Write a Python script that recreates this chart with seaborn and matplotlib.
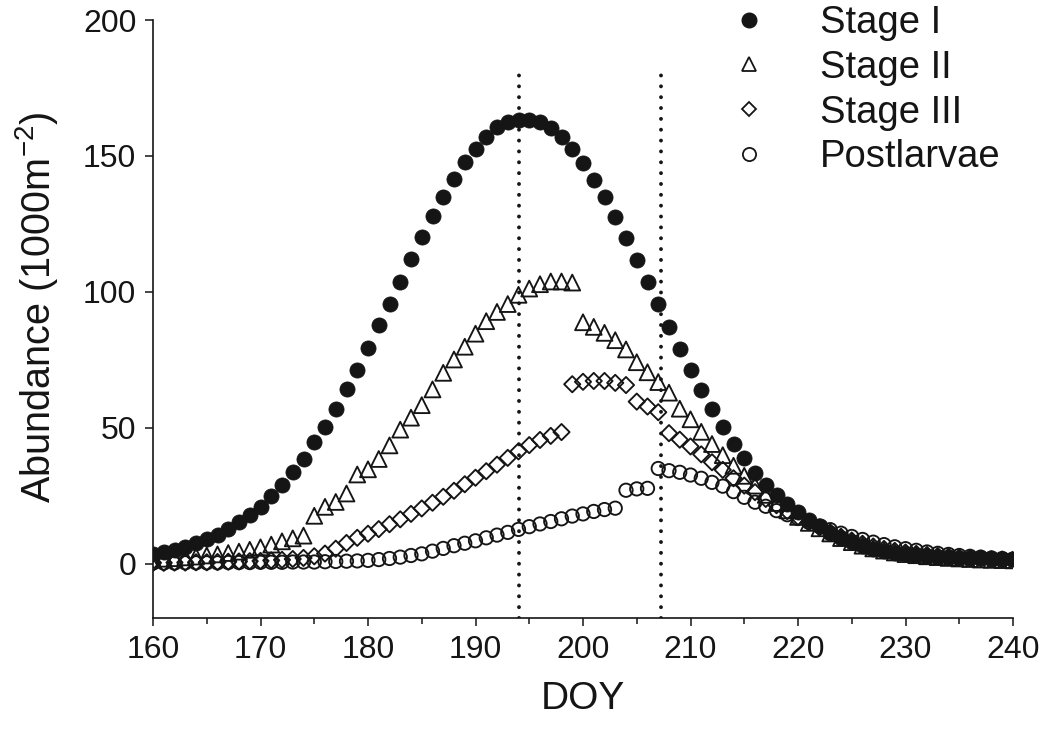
import matplotlib
matplotlib.use("Agg")
import matplotlib.pyplot as plt
from matplotlib.lines import Line2D
from matplotlib.ticker import MultipleLocator
import numpy as np
import pandas as pd
import seaborn as sns

# ---------------- data ----------------
days = list(range(160, 241))

stage1 = [3.7, 4.3, 5.2, 6.3, 7.7, 9.2, 10.6, 12.6, 15.3, 18.0, 21.0, 24.8, 28.9, 33.6,
          38.5, 44.6, 50.3, 57.0, 64.1, 71.4, 79.4, 87.9, 95.6,
          103.6, 112.0, 120.0, 127.8, 134.9, 141.6, 147.7, 152.6, 157.1, 160.5, 162.4,
          163.3, 163.3, 162.4, 160.3, 157.1, 152.6, 147.4, 141.3, 134.7, 127.4, 119.7,
          111.6, 103.6, 95.4,
          87.1, 79.0, 71.2, 63.9, 56.8, 50.1, 44.0, 38.7, 33.3, 28.9, 25.3, 22.0, 18.9,
          16.2, 14.0,
          11.4, 9.4, 7.8, 6.4, 5.4, 4.6, 4.0, 3.5, 3.1, 2.8, 2.5, 2.3, 2.1, 2.0, 1.9,
          1.8, 1.7, 1.6]

stage2 = [1.5, 1.8, 2.0, 2.3, 2.6, 3.0, 3.4, 3.9, 4.4, 5.1, 6.0, 7.0, 8.2, 9.3, 10.3,
          17.6, 20.9, 22.7, 25.8, 32.8, 34.7, 38.5, 43.5, 49.3, 53.7, 58.3, 64.1, 70.2,
          75.1, 79.8, 84.6, 89.2, 92.6, 95.5, 98.9, 101.2, 102.8, 103.8, 103.8, 103.4,
          88.8, 87.1, 84.9, 82.2, 78.8, 74.1, 70.4, 66.8, 62.9, 57.0, 53.1, 48.5, 44.0,
          39.9, 36.0, 32.3, 28.7,
          25.3, 22.3, 19.6, 17.2, 15.0, 13.0, 11.1, 9.4, 7.9, 6.6, 5.6, 4.8, 4.1, 3.5,
          3.1, 2.7, 2.4, 2.1, 1.9, 1.7, 1.5, 1.4, 1.3, 1.2]

stage3 = [0.3, 0.3, 0.4, 0.4, 0.5, 0.5, 0.6, 0.7, 0.8, 0.9, 1.0, 1.2, 1.4, 1.7, 2.1, 2.7,
          3.7,
          5.5, 7.6, 9.5, 11.0, 12.7, 14.5, 16.3, 18.3, 20.3, 22.4, 24.6, 26.8, 29.2, 31.6,
          34.0, 36.4, 38.9, 41.3, 43.6, 45.5, 47.0, 48.4,
          66.0, 66.9, 67.2, 67.2, 66.5, 65.7, 59.6, 57.8, 55.7, 48.0, 45.6, 43.1, 40.2,
          37.3, 34.5, 31.4, 28.7, 26.3,
          23.8, 21.5, 19.3, 17.2, 15.2, 13.3, 11.5, 9.9, 8.5, 7.3, 6.3, 5.4, 4.7, 4.1,
          3.6, 3.2, 2.8, 2.5, 2.2, 2.0, 1.8, 1.6, 1.5, 1.4]

postlarvae = [0.2, 0.2, 0.2, 0.3, 0.3, 0.3, 0.3, 0.4, 0.4, 0.4, 0.5, 0.5, 0.5, 0.6, 0.6,
              0.6, 0.7, 0.8, 0.9, 1.0,
              1.2, 1.5, 1.9, 2.4, 3.0, 3.6, 4.6, 5.6, 6.6, 7.5, 8.4, 9.5, 10.5, 11.5, 12.6,
              13.6, 14.6, 15.5, 16.5, 17.5, 18.3, 19.2, 19.9, 20.4,
              27.0, 27.5, 27.7, 35.0, 34.2, 33.6, 32.6, 31.4, 29.9, 28.5, 26.5, 24.4, 22.6,
              21.1, 19.5,
              18.0, 16.6, 15.2, 13.8, 12.5, 11.2, 10.0, 8.9, 7.9, 7.0, 6.2, 5.5, 4.9, 4.3,
              3.8, 3.4, 3.0, 2.7, 2.4, 2.1, 1.9, 1.7]

labels = ["Stage I", "Stage II", "Stage III", "Postlarvae"]
vline_days = [194, 207.3]
xticks = [160, 170, 180, 190, 200, 210, 220, 230, 240]
yticks = [0, 50, 100, 150, 200]

df = pd.DataFrame({"DOY": days, "Stage I": stage1, "Stage II": stage2,
                   "Stage III": stage3, "Postlarvae": postlarvae})

# ---------------- style ----------------
sns.set_style("ticks")
plt.rcParams["font.family"] = ["Liberation Sans", "DejaVu Sans"]
plt.rcParams["mathtext.fontset"] = "custom"
plt.rcParams["mathtext.rm"] = "Liberation Sans"
plt.rcParams["mathtext.it"] = "Liberation Sans:italic"
plt.rcParams["mathtext.default"] = "regular"

INK = "#151515"

fig = plt.figure(figsize=(10.42, 7.36), dpi=100)
W, H = 1042, 736
ax = fig.add_axes([153 / W, (H - 618) / H, (1013 - 153) / W, (618 - 20) / H])

# series: open markers first, filled Stage I on top
sns.scatterplot(data=df, x="DOY", y="Postlarvae", ax=ax, marker="o", s=92,
                facecolor="none", edgecolor=INK, linewidth=1.35, zorder=3, legend=False)
sns.scatterplot(data=df, x="DOY", y="Stage III", ax=ax, marker="D", s=68,
                facecolor="none", edgecolor=INK, linewidth=1.35, zorder=4, legend=False)
sns.scatterplot(data=df, x="DOY", y="Stage II", ax=ax, marker="^", s=130,
                facecolor="none", edgecolor=INK, linewidth=1.35, zorder=5, legend=False)
sns.scatterplot(data=df, x="DOY", y="Stage I", ax=ax, marker="o", s=118,
                color=INK, edgecolor=INK, linewidth=0.6, zorder=6, legend=False)

lc = ax.vlines(vline_days, -20, 180, colors=INK, linewidth=2.8,
               linestyles=[(0, (0.01, 2.78))], zorder=2)
lc.set_capstyle("round")

ax.set_xlim(160, 240)
ax.set_ylim(-20, 200)
ax.set_xticks(xticks)
ax.xaxis.set_minor_locator(MultipleLocator(5))
ax.set_yticks(yticks)

for side in ["top", "right"]:
    ax.spines[side].set_visible(False)
for side in ["left", "bottom"]:
    ax.spines[side].set_linewidth(1.2)
    ax.spines[side].set_color(INK)

ax.tick_params(axis="both", which="major", length=6, width=1.1, colors=INK,
               labelsize=23, pad=6)
ax.tick_params(axis="x", which="minor", length=4, width=1.1, colors=INK)

ax.set_xlabel("DOY", fontsize=28, color=INK, labelpad=12)
ax.set_ylabel("Abundance (1000m$^{-2}$)", fontsize=28.5, color=INK)
ax.yaxis.set_label_coords(-0.108, 0.52)

handles = [
    Line2D([], [], ls="", marker="o", ms=10.5, mfc=INK, mec=INK),
    Line2D([], [], ls="", marker="^", ms=9.5, mfc="none", mec=INK, mew=1.3),
    Line2D([], [], ls="", marker="D", ms=7.5, mfc="none", mec=INK, mew=1.3),
    Line2D([], [], ls="", marker="o", ms=9.5, mfc="none", mec=INK, mew=1.3),
]
leg = ax.legend(handles, labels, loc="upper left", bbox_to_anchor=(730 / W, 1 - 5 / H),
                bbox_transform=fig.transFigure, frameon=False, fontsize=27.5,
                handlelength=1.0, handletextpad=1.35, labelspacing=0.23,
                borderpad=0.0, borderaxespad=0.0)
for t in leg.get_texts():
    t.set_color(INK)

fig.savefig("out.png", dpi=100)
